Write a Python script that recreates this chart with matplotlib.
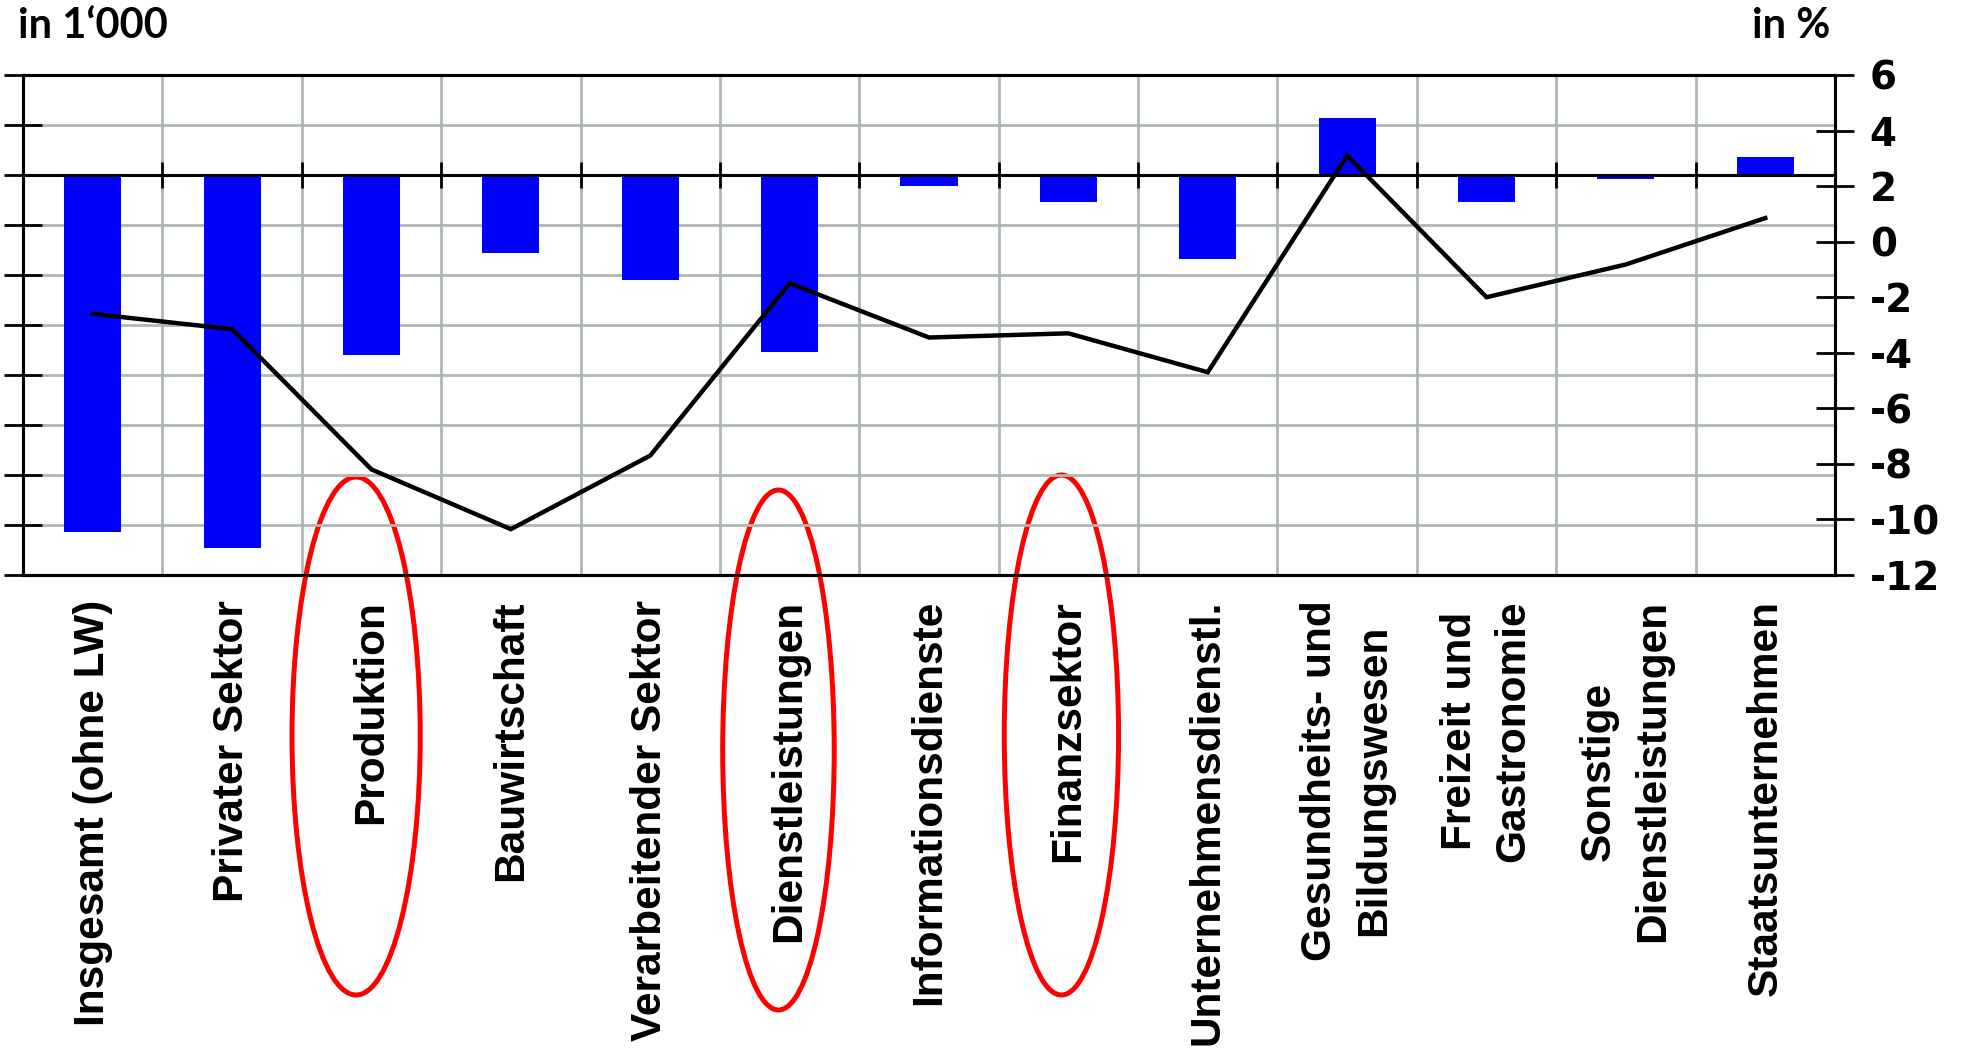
import numpy as np
import matplotlib
matplotlib.use("Agg")
import matplotlib.pyplot as plt
import matplotlib.transforms as mtransforms
from matplotlib.patches import Ellipse

# ---------------- data ----------------
categories = [
    "Insgesamt (ohne LW)",
    "Privater Sektor",
    "Produktion",
    "Bauwirtschaft",
    "Verarbeitender Sektor",
    "Dienstleistungen",
    "Informationsdienste",
    "Finanzsektor",
    "Unternehmensdienstl.",
    "Gesundheits- und\nBildungswesen",
    "Freizeit und\nGastronomie",
    "Sonstige\nDienstleistungen",
    "Staatsunternehmen",
]
change_thousands = [-71.3, -74.6, -36.0, -15.5, -21.0, -35.4, -2.1, -5.4, -16.8, 11.5, -5.3, -0.7, 3.6]
change_percent = [-2.6, -3.15, -8.2, -10.35, -7.7, -1.5, -3.45, -3.3, -4.7, 3.1, -2.0, -0.82, 0.85]
right_ticks = [6, 4, 2, 0, -2, -4, -6, -8, -10, -12]
left_unit = "in 1\u2018000"
right_unit = "in %"
highlighted = ["Produktion", "Dienstleistungen", "Finanzsektor"]

# ---------------- layout ----------------
W, H = 1969, 1056
fig = plt.figure(figsize=(W / 100, H / 100), dpi=100)
ax = fig.add_axes([23 / W, 1 - 575 / H, (1835 - 23) / W, (575 - 75) / H])
ax.set_zorder(1)
ax.patch.set_visible(False)

n = len(categories)
x = np.arange(n)

GRID = "#aeb8b3"
BLUE = "#0000ff"

# bars (left axis)
ax.bar(x, change_thousands, width=0.41, color=BLUE, zorder=2)
ax.set_xlim(-0.5, n - 0.5)
ax.set_ylim(-80, 20)
ax.set_yticks(np.arange(-80, 21, 10))
ax.set_xticks(x)
ax.set_xticks(x[:-1] + 0.5, minor=True)
ax.set_axisbelow(True)
ax.grid(True, which="major", axis="y", color=GRID, lw=2.0)
ax.grid(True, which="minor", axis="x", color=GRID, lw=2.0)
ax.tick_params(axis="y", direction="inout", length=28, width=2.0, labelleft=False, left=True)
ax.tick_params(axis="x", which="both", length=0, pad=18)
ax.set_xticklabels(categories, rotation=90, ha="center", va="top",
                   fontsize=30.5, fontweight="bold", family="Liberation Sans",
                   linespacing=1.45, multialignment="center")
for s in ax.spines.values():
    s.set_linewidth(2.2)
    s.set_color("black")

# zero line with category separator ticks
ax3 = ax.twiny()
ax3.set_zorder(2)
ax3.set_xlim(ax.get_xlim())
for k in ["top", "left", "right"]:
    ax3.spines[k].set_visible(False)
ax3.spines["bottom"].set_position(("data", 0))
ax3.spines["bottom"].set_linewidth(2.2)
ax3.xaxis.set_ticks_position("bottom")
ax3.set_xticks(x[:-1] + 0.5)
ax3.tick_params(axis="x", direction="inout", length=19, width=2.0, labelbottom=False)

# line (right axis)
ax2 = ax.twinx()
ax2.set_zorder(3)
ax2.plot(x, change_percent, color="black", lw=3.2, solid_joinstyle="miter")
ax2.set_ylim(-12, 6)
ax2.set_yticks(right_ticks)
ax2.set_yticklabels([str(t) for t in right_ticks])
ax2.tick_params(axis="y", direction="inout", length=28, width=2.0, pad=11,
                labelsize=28)
for lab in ax2.get_yticklabels():
    lab.set_fontweight("bold")
    lab.set_family("DejaVu Sans")
for s in ax2.spines.values():
    s.set_linewidth(2.2)

# unit labels
fig.text(18 / W, 1 - 38 / H, left_unit, fontsize=30, fontweight="bold",
         family=["Lato", "DejaVu Sans"], ha="left", va="baseline")
fig.text(1830 / W, 1 - 38 / H, right_unit, fontsize=30, fontweight="bold",
         family=["Lato", "DejaVu Sans"], ha="right", va="baseline")

# red highlight ellipses around some category labels
ell_specs = {
    "Produktion": (-0.11, 0.92, 736, 518),
    "Dienstleistungen": (-0.08, 0.80, 750, 520),
    "Finanzsektor": (-0.05, 0.82, 735, 520),
}
blend = mtransforms.blended_transform_factory(ax.transData, fig.transFigure)
for name in highlighted:
    dx, w, yc, h = ell_specs[name]
    i = categories.index(name)
    e = Ellipse((x[i] + dx, 1 - yc / H), w, h / H, transform=blend,
                fill=False, edgecolor="#ff0000", lw=3.6, clip_on=False)
    fig.add_artist(e)

fig.savefig("out.png", dpi=100)
